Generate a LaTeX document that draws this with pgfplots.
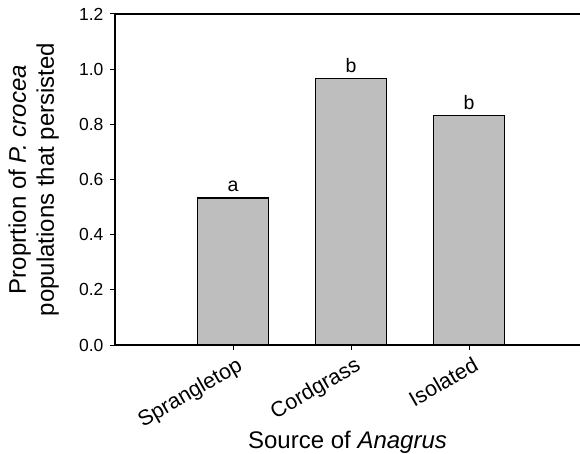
\documentclass[border=0pt]{standalone}
\usepackage{fontspec}
\setmainfont{Liberation Sans}
\usepackage{pgfplots}
\pgfplotsset{compat=1.18}
\definecolor{bargray}{RGB}{190,190,190}
\begin{document}
\begin{tikzpicture}
\begin{axis}[
    scale only axis,
    width=465pt, height=331pt,
    xmin=0, xmax=3.94,
    ymin=0, ymax=1.2,
    axis x line=box,
    axis y line=left,
    axis line style={line width=1.2pt,-},
    xtick={1,2,3},
    xticklabels={Sprangletop, Cordgrass, Isolated},
    ytick={0,0.2,...,1.2},
    tick style={black, line width=1pt},
    tick align=outside,
    major tick length=5pt,
    xtick pos=bottom,
    ytick pos=left,
    yticklabel style={/pgf/number format/fixed, /pgf/number format/fixed zerofill, /pgf/number format/precision=1, font=\fontsize{17.5pt}{17.5pt}\selectfont, xshift=-3pt},
    /pgf/number format/assume math mode=true,
    xticklabel style={rotate=30, anchor=north east, font=\fontsize{21.5pt}{21.5pt}\selectfont, xshift=3pt, yshift=-3pt},
    ylabel={\begin{tabular}{c}Proprtion of \textit{P. crocea}\\populations that persisted\end{tabular}},
    ylabel style={font=\fontsize{24pt}{28pt}\selectfont, yshift=10pt},
    xlabel={Source of \textit{Anagrus}},
    xlabel style={font=\fontsize{24pt}{24pt}\selectfont, at={(axis description cs:0.5,0)}, anchor=base, yshift=-103pt},
    ]
% bar heights with significance letters
\addplot[ybar, bar width=71pt, fill=bargray, draw=black, line width=1.4pt,
    point meta=explicit symbolic,
    nodes near coords={\pgfplotspointmeta},
    every node near coord/.append style={font=\fontsize{19.5pt}{19.5pt}\selectfont, black, yshift=2pt}]
    table[meta=lab] {
    x y lab
    1 0.533 a
    2 0.967 b
    3 0.833 b
    };
\end{axis}
\pgfresetboundingbox
\path ([shift={(-115pt,-108pt)}]current axis.south west) rectangle ([shift={(0pt,14pt)}]current axis.north east);
\end{tikzpicture}
\end{document}
